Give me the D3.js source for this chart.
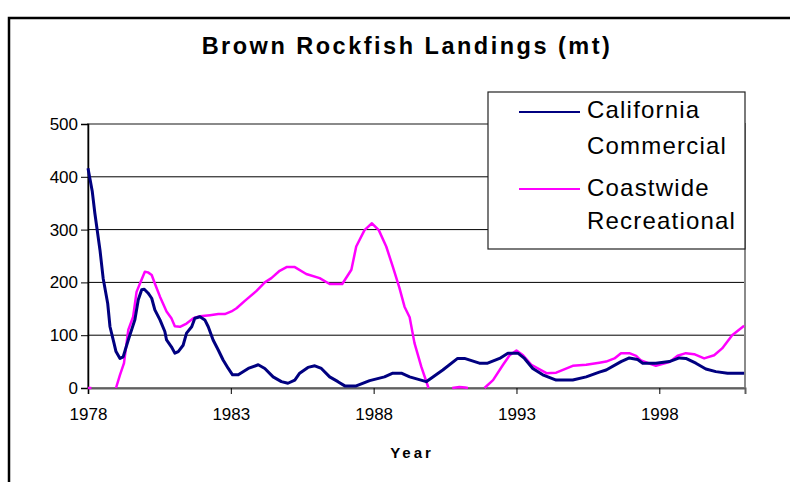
<!DOCTYPE html>
<html><head><meta charset="utf-8">
<script src="https://cdn.jsdelivr.net/npm/d3@7"></script>
<style>
body{margin:0;background:#fff}
svg{display:block}
text{font-family:"Liberation Sans",Arial,sans-serif;fill:#000}
</style>
</head><body>
<svg id="c" width="790" height="482"></svg>
<script>
// ---- data ----
const comYears = [1978.00,1978.15,1978.24,1978.42,1978.53,1978.69,1978.77,1978.91,1978.98,1979.12,1979.23,1979.41,1979.64,1979.76,1979.88,1979.97,1980.10,1980.23,1980.34,1980.52,1980.69,1980.75,1980.92,1981.04,1981.16,1981.33,1981.45,1981.63,1981.74,1981.92,1982.09,1982.21,1982.38,1982.56,1982.73,1982.91,1983.06,1983.26,1983.61,1983.96,1984.19,1984.48,1984.77,1985.00,1985.24,1985.41,1985.70,1985.94,1986.17,1986.46,1986.75,1986.99,1987.39,1987.86,1988.38,1988.67,1988.97,1989.26,1989.84,1990.42,1990.94,1991.18,1991.70,1991.99,1992.41,1992.70,1993.05,1993.28,1993.57,1993.92,1994.39,1994.97,1995.44,1995.90,1996.14,1996.66,1996.95,1997.24,1997.42,1997.88,1998.35,1998.70,1998.93,1999.28,1999.63,1999.98,2000.39,2000.97];
const comValues = [416,372,331,261,208,160,116,85,69,56,59,91,129,167,186,187,180,170,148,129,107,91,78,66,69,81,104,116,132,135,129,116,91,72,53,37,25,25,37,44,37,21,12,9,15,28,39,42,37,21,12,4,4,14,21,28,28,21,12,34,56,56,47,47,56,66,66,56,37,25,15,15,21,30,34,50,57,54,47,47,50,57,56,47,36,31,28,28];

const recYears = [1978.00,1978.12,1978.20,1978.98,1979.12,1979.26,1979.41,1979.58,1979.70,1979.82,1979.99,1980.10,1980.23,1980.34,1980.52,1980.75,1980.92,1981.04,1981.22,1981.45,1981.69,1981.92,1982.27,1982.56,1982.79,1983.02,1983.20,1983.49,1983.90,1984.19,1984.42,1984.71,1984.95,1985.24,1985.64,1986.11,1986.46,1986.90,1987.22,1987.39,1987.68,1987.94,1988.18,1988.44,1988.67,1988.90,1989.08,1989.26,1989.43,1989.67,1989.92,1990.30,1990.75,1991.00,1991.20,1991.30,1991.60,1991.88,1992.18,1992.53,1992.76,1993.00,1993.23,1993.52,1994.05,1994.39,1994.97,1995.44,1995.90,1996.14,1996.43,1996.66,1996.95,1997.19,1997.36,1997.88,1998.35,1998.64,1998.93,1999.22,1999.57,1999.92,2000.20,2000.55,2000.97];
const recValues = [0,0,null,0,25,47,110,135,182,198,220,219,214,198,173,145,132,117,116,122,132,136,138,140,140,145,151,165,184,200,208,222,229,229,216,208,197,197,224,268,299,312,299,268,230,190,154,134,85,40,0,null,0,2,1,0,null,0,15,44,62,71,62,44,28,29,42,44,48,50,56,66,66,61,52,42,49,61,66,64,56,62,75,100,118];

const xTickYears = [1978,1983,1988,1993,1998];
const yTicks = [0,100,200,300,400,500];
const seriesNames = [["California","Commercial"],["Coastwide","Recreational"]];
const seriesColors = ["#000080","#FF00FF"];
const titleText = "Brown Rockfish Landings (mt)";
const xTitle = "Year";

// ---- drawing ----
const svg = d3.select("#c");
svg.append("rect").attr("width",790).attr("height",482).attr("fill","#fff");
// outer chart border
svg.append("rect").attr("x",9).attr("y",18).attr("width",800).attr("height",500)
  .attr("fill","none").attr("stroke","#000").attr("stroke-width",2.5);

const L=88, R=745, T=124, B=388;
const x = d3.scaleLinear().domain([1978,2001]).range([L,R]);
const y = d3.scaleLinear().domain([0,500]).range([B,T]);

// gridlines
svg.append("g").selectAll("line").data(yTicks.filter(d=>d>0 && d<500)).join("line")
  .attr("x1",L).attr("x2",R).attr("y1",d=>y(d)).attr("y2",d=>y(d))
  .attr("stroke","#000").attr("stroke-width",1);

// plot border
svg.append("rect").attr("x",L).attr("y",T).attr("width",R-L).attr("height",B-T)
  .attr("fill","none").attr("stroke","#8a8a8a").attr("stroke-width",2);

// y axis
const yAxis = d3.axisLeft(y).tickValues(yTicks).tickSize(7).tickPadding(3).tickFormat(d3.format("d"));
const gy = svg.append("g").attr("transform",`translate(${L},0)`).call(yAxis);
gy.select(".domain").attr("stroke","#000").attr("stroke-width",1.5);
gy.selectAll(".tick line").attr("stroke","#000");
gy.selectAll("text").attr("font-size",17).attr("font-family","Liberation Sans, Arial, sans-serif").attr("fill","#000");

// x axis
const xAxis = d3.axisBottom(x).tickValues(xTickYears).tickSize(6).tickPadding(14).tickFormat(d3.format("d"));
const gx = svg.append("g").attr("transform",`translate(0,${B})`).call(xAxis);
gx.select(".domain").attr("stroke","#606060").attr("stroke-width",2);
gx.selectAll(".tick line").attr("stroke","#000");
gx.selectAll("text").attr("font-size",17).attr("font-family","Liberation Sans, Arial, sans-serif").attr("fill","#000");

// series
const line = d3.line().defined(d=>d[1]!==null).x(d=>x(d[0])).y(d=>y(d[1]));
const comData = comYears.map((yr,i)=>[yr,comValues[i]]);
const recData = recYears.map((yr,i)=>[yr,recValues[i]]);
svg.append("path").datum(recData).attr("d",line).attr("fill","none")
  .attr("stroke",seriesColors[1]).attr("stroke-width",2.5).attr("stroke-linejoin","round");
svg.append("path").datum(comData).attr("d",line).attr("fill","none")
  .attr("stroke",seriesColors[0]).attr("stroke-width",3).attr("stroke-linejoin","round");

// title
svg.append("text").attr("x",407).attr("y",54).attr("text-anchor","middle")
  .attr("font-size",23.5).attr("font-weight","bold").attr("letter-spacing",2.5).text(titleText);

// x title
svg.append("text").attr("x",412).attr("y",458).attr("text-anchor","middle")
  .attr("font-size",15).attr("font-weight","bold").attr("letter-spacing",3).text(xTitle);

// legend
const lg = svg.append("g");
lg.append("rect").attr("x",488).attr("y",92).attr("width",257).attr("height",157)
  .attr("fill","#fff").attr("stroke","#222").attr("stroke-width",1.2);
const legY = [[118,154],[196,229]];
const legLineY = [112,189];
seriesNames.forEach((nm,i)=>{
  lg.append("line").attr("x1",519).attr("x2",580).attr("y1",legLineY[i]).attr("y2",legLineY[i])
    .attr("stroke",seriesColors[i]).attr("stroke-width",2);
  nm.forEach((t,j)=>{
    lg.append("text").attr("x",587).attr("y",legY[i][j]).attr("font-size",24)
      .attr("letter-spacing",1.2).text(t);
  });
});
</script>
</body></html>
